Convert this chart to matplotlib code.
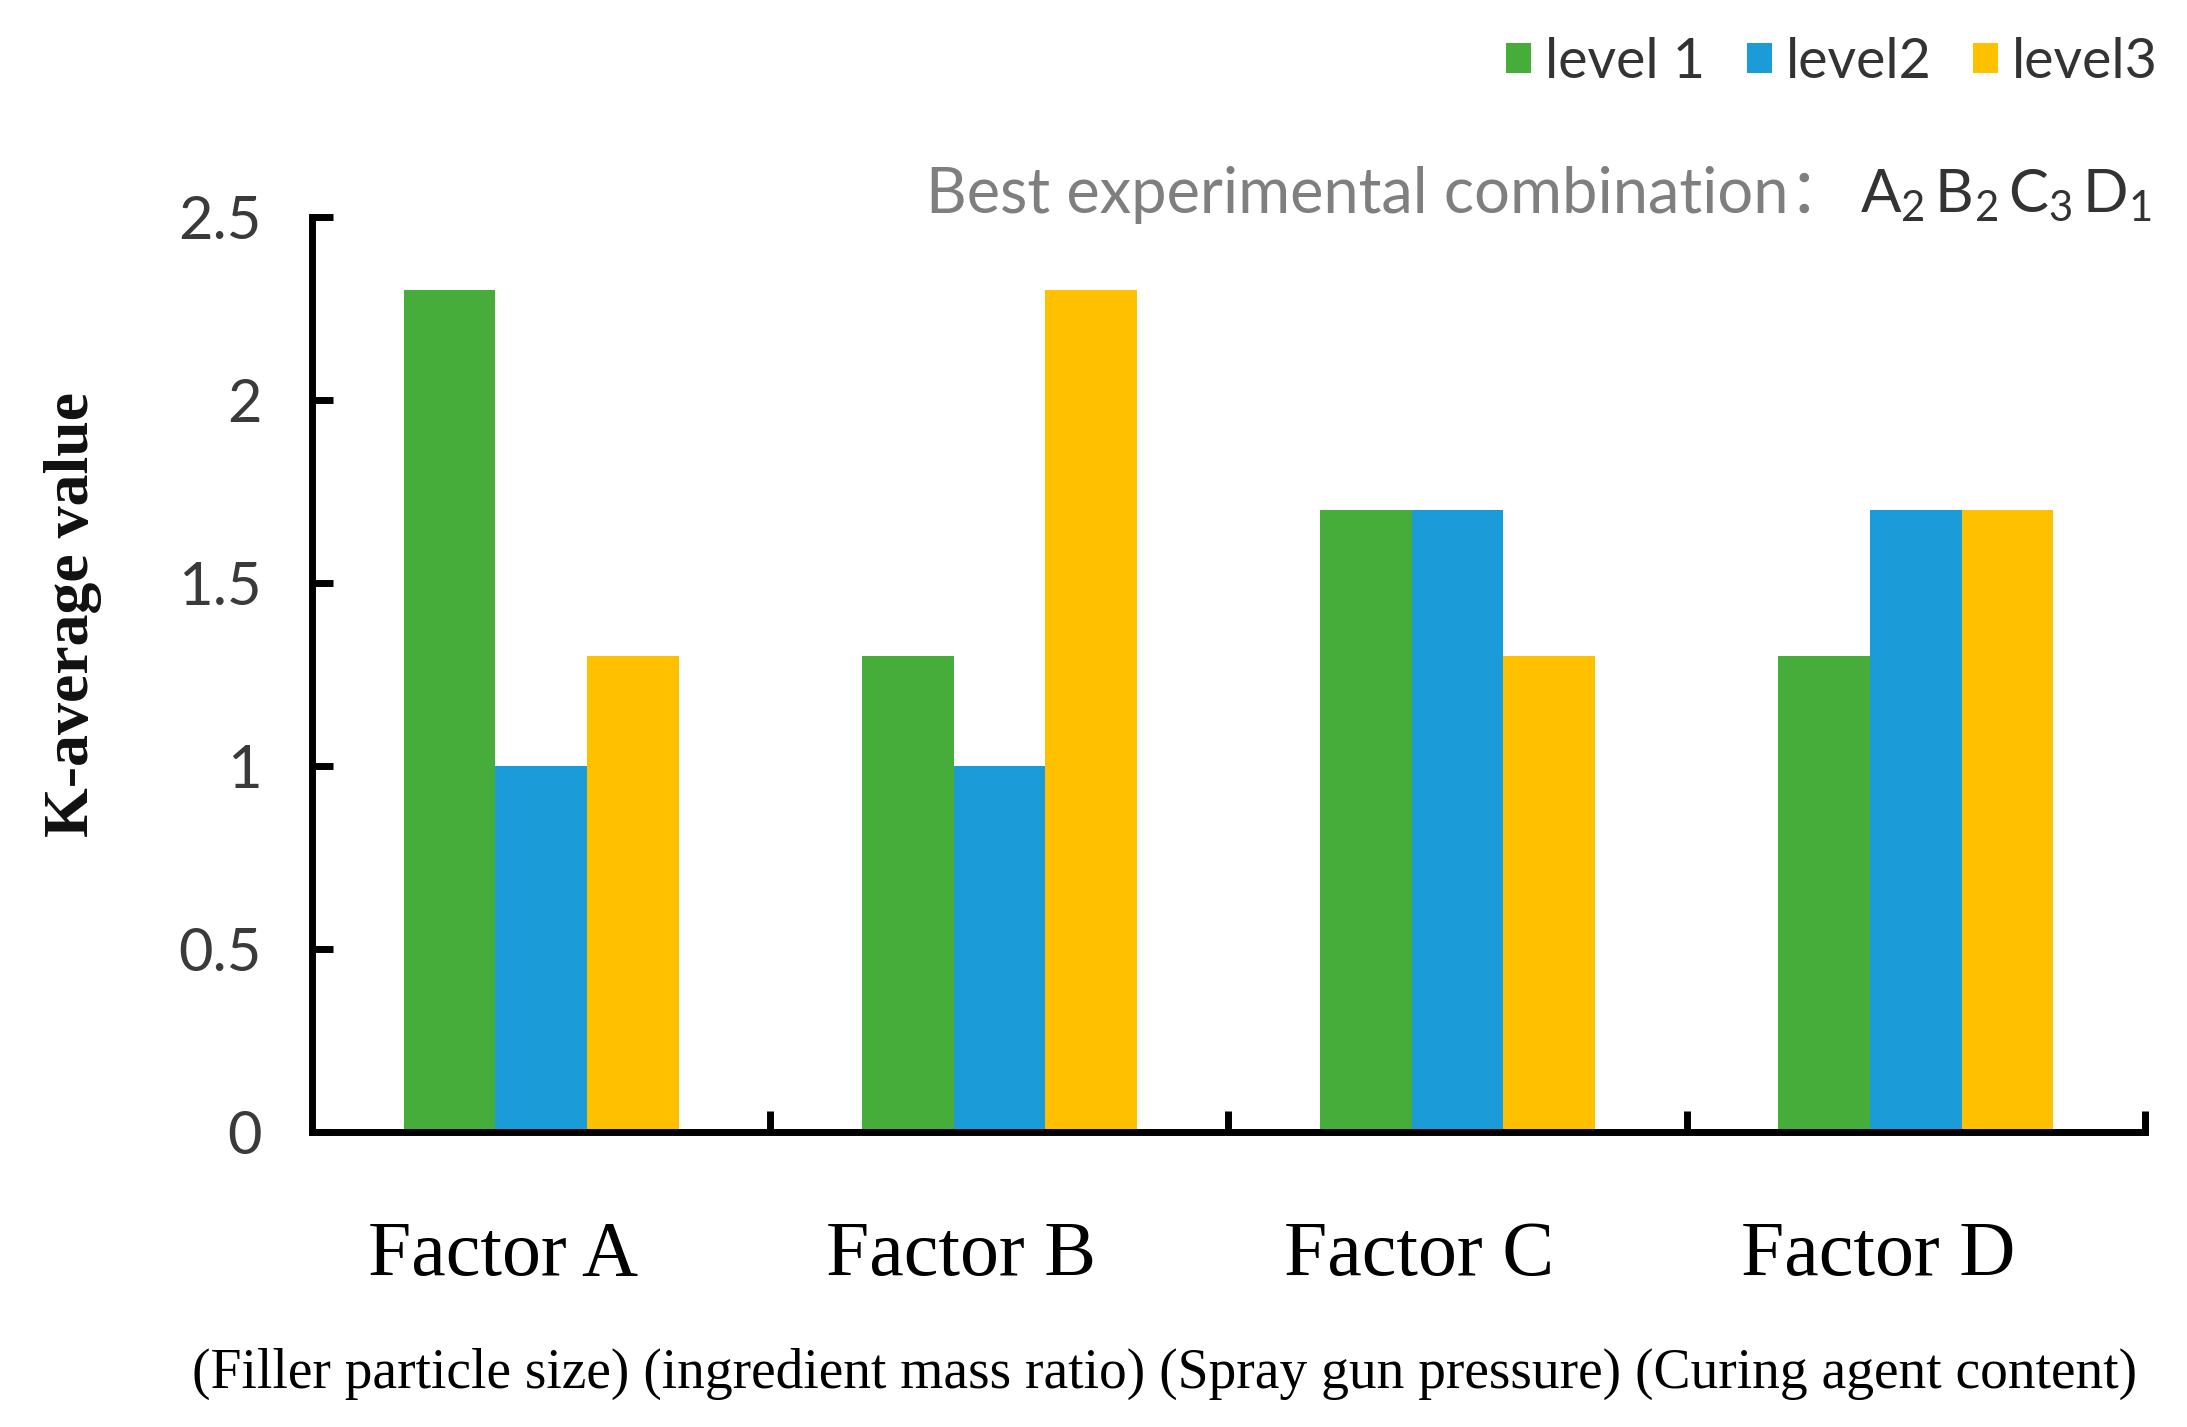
import matplotlib
matplotlib.use("Agg")
import matplotlib.pyplot as plt
from matplotlib.patches import Patch
from matplotlib.transforms import ScaledTranslation
import numpy as np

categories = ["Factor A", "Factor B", "Factor C", "Factor D"]
series_names = ["level 1", "level2", "level3"]
level1 = [2.3, 1.3, 1.7, 1.3]
level2 = [1.0, 1.0, 1.7, 1.7]
level3 = [1.3, 2.3, 1.3, 1.7]
yticks = [0, 0.5, 1, 1.5, 2, 2.5]
ytick_labels = ["0", "0.5", "1", "1.5", "2", "2.5"]
subtitle = "(Filler particle size) (ingredient mass ratio) (Spray gun pressure) (Curing agent content)"
colors = ["#46AD3B", "#1B9BD7", "#FFC000"]

plt.rcParams['mathtext.fontset'] = 'custom'
plt.rcParams['mathtext.rm'] = 'Lato'
plt.rcParams['mathtext.it'] = 'Lato'

SANS = ['Lato', 'DejaVu Sans']
SERIF = ['Liberation Serif', 'DejaVu Serif']

fig = plt.figure(figsize=(21.87, 14.27), dpi=100)
ax = fig.add_axes([0.1427, 0.2067, 0.838, 0.6412])

x = np.arange(len(categories))
w = 0.2
for j, vals in enumerate([level1, level2, level3]):
    ax.bar(x + (j - 1) * w, vals, width=w, color=colors[j], edgecolor='none', zorder=2)

ax.set_xlim(-0.5, 3.5)
ax.set_ylim(0, 2.5)
for s in ['top', 'right']:
    ax.spines[s].set_visible(False)
for s in ['left', 'bottom']:
    ax.spines[s].set_linewidth(5)
    ax.spines[s].set_color('black')
    ax.spines[s].set_zorder(3)

ax.set_yticks(yticks)
ax.set_yticklabels(ytick_labels, family=SANS, fontsize=43, color='#3a3a3a')
ax.tick_params(axis='y', direction='in', length=15, width=5, pad=36)

ax.set_xticks(x)
ax.set_xticklabels(categories, family=SERIF, fontsize=56, color='black')
ax.tick_params(axis='x', which='major', length=0, pad=64)
offset = ScaledTranslation(-38 / 100, 0, fig.dpi_scale_trans)
for lab in ax.get_xticklabels():
    lab.set_transform(lab.get_transform() + offset)
ax.set_xticks([0.5, 1.5, 2.5, 3.5], minor=True)
ax.tick_params(axis='x', which='minor', direction='in', length=15, width=5)

fig.text(0.0334, 0.5697, "K-average value", rotation=90, ha='center', va='center',
         family=SERIF, fontweight='bold', fontsize=46, color='#111111')

fig.text(0.5327, 0.0371, subtitle, ha='center', va='center', family=SERIF, fontsize=40, color='black')

handles = [Patch(facecolor=c, edgecolor='none') for c in colors]
fig.legend(handles, series_names, loc='center right', bbox_to_anchor=(2158 / 2187, 1 - 62 / 1427),
           ncol=3, frameon=False, prop={'family': SANS, 'size': 40},
           handlelength=0.45, handleheight=0.45, handletextpad=0.25, columnspacing=0.75,
           borderpad=0, borderaxespad=0, labelcolor='#333333')

renderer = fig.canvas.get_renderer()
t2 = fig.text(2152 / 2187, 1 - 213 / 1427, r'$\mathregular{A_2\,B_2\,C_3\,D_1}$', ha='right', va='baseline',
              family=SANS, fontsize=43, color='#333333')
bb = t2.get_window_extent(renderer)
fig.text(bb.x0 / fig.bbox.width - 0.004, 1 - 213 / 1427, "Best experimental combination：",
         ha='right', va='baseline', family=['Lato', 'Noto Sans CJK SC', 'DejaVu Sans'],
         fontsize=45.5, color='#7f7f7f')

fig.savefig("out.png", dpi=100)
